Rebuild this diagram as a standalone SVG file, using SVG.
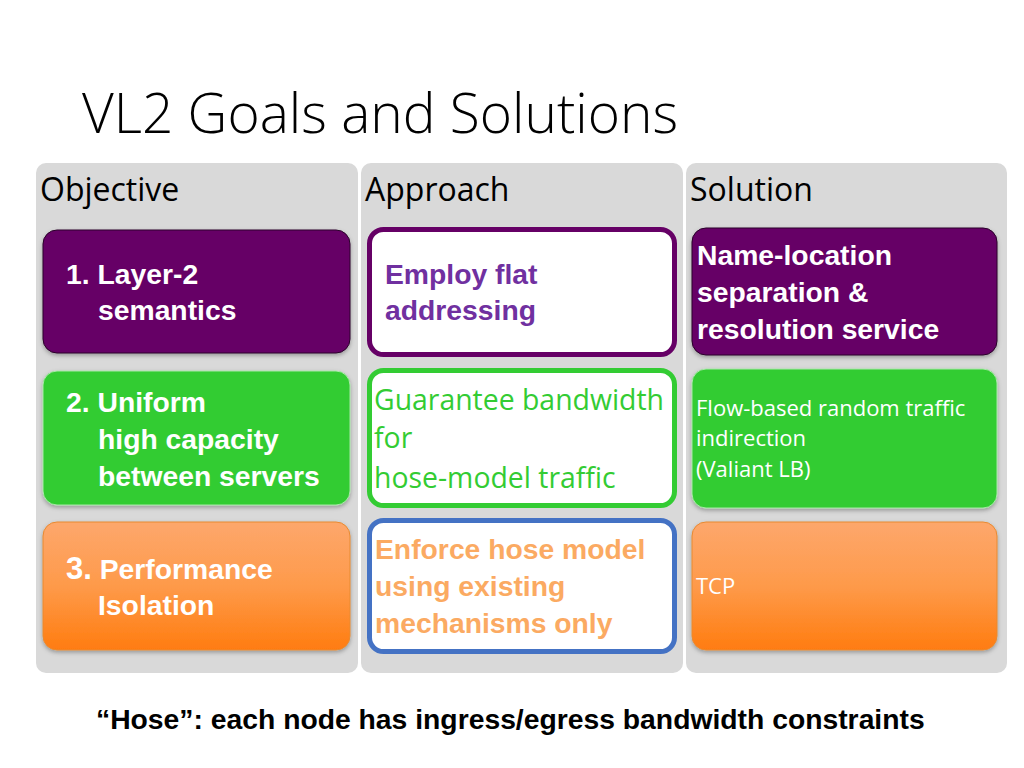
<svg xmlns="http://www.w3.org/2000/svg" width="1024" height="768" viewBox="0 0 1024 768">
<defs>
<linearGradient id="orangeGrad" x1="0" y1="0" x2="0" y2="1">
<stop offset="0" stop-color="#fda76c"/>
<stop offset="0.5" stop-color="#fe9a4a"/>
<stop offset="1" stop-color="#ff7c10"/>
</linearGradient>
<filter id="shadow" x="-5%" y="-5%" width="110%" height="120%">
<feDropShadow dx="0" dy="2" stdDeviation="2" flood-color="#000" flood-opacity="0.3"/>
</filter>
</defs>
<style>
.col{fill:#d9d9d9}
.hdr{font-family:"Open Sans",sans-serif;font-size:32px;fill:#000}
.b{font-family:"Liberation Sans",Arial,sans-serif;font-weight:bold;font-size:28.3px}
.w{fill:#fff}
.cal{font-family:"Open Sans",sans-serif}
.purpleBox{fill:#660066;stroke:#2a002a;stroke-width:1}
.greenBox{fill:#33cc33;stroke:#a8e8a8;stroke-width:1}
.orangeBox{fill:url(#orangeGrad);stroke:#e88a30;stroke-width:1}
.outline{fill:#fff;stroke-width:5}
</style>
<rect width="1024" height="768" fill="#fff"/>
<text x="82" y="133" font-family="Open Sans, sans-serif" font-weight="300" font-size="55" fill="#000">VL2 Goals and Solutions</text>

<g id="columns">
<rect class="col" x="36" y="163" width="322" height="510" rx="10"/>
<rect class="col" x="361" y="163" width="322" height="510" rx="10"/>
<rect class="col" x="686" y="163" width="321" height="510" rx="10"/>
<text class="hdr" x="40" y="201">Objective</text>
<text class="hdr" x="365" y="201">Approach</text>
<text class="hdr" x="690" y="201">Solution</text>
</g>

<g id="obj1">
<rect class="purpleBox" x="43" y="230" width="307" height="123" rx="14" filter="url(#shadow)"/>
<text class="b w" x="66" y="284">1. Layer-2</text>
<text class="b w" x="98" y="320">semantics</text>
</g>
<g id="obj2">
<rect class="greenBox" x="43" y="371" width="307" height="134" rx="14" filter="url(#shadow)"/>
<text class="b w" x="66" y="412">2. Uniform</text>
<text class="b w" x="98" y="449">high capacity</text>
<text class="b w" x="98" y="486">between servers</text>
</g>
<g id="obj3">
<rect class="orangeBox" x="43" y="522" width="307" height="128" rx="14" filter="url(#shadow)"/>
<text class="b w" x="66" y="579"><tspan font-size="31">3.</tspan> Performance</text>
<text class="b w" x="98" y="615">Isolation</text>
</g>

<g id="app1">
<rect class="outline" x="369.5" y="229.5" width="305" height="125" rx="14" stroke="#660066"/>
<text class="b" fill="#7030a0" x="385" y="284">Employ flat</text>
<text class="b" fill="#7030a0" x="385" y="320">addressing</text>
</g>
<g id="app2">
<rect class="outline" x="369.5" y="370.5" width="305" height="135" rx="14" stroke="#33cc33"/>
<text class="cal" fill="#33cc33" font-size="28.4" x="374" y="410">Guarantee bandwidth</text>
<text class="cal" fill="#33cc33" font-size="28.4" x="374" y="448">for</text>
<text class="cal" fill="#33cc33" font-size="28.4" x="374" y="488">hose-model traffic</text>
</g>
<g id="app3">
<rect class="outline" x="369.5" y="520.5" width="305" height="131" rx="14" stroke="#4472c4"/>
<text class="b" fill="#fbaa62" x="375" y="559">Enforce hose model</text>
<text class="b" fill="#fbaa62" x="375" y="596">using existing</text>
<text class="b" fill="#fbaa62" x="375" y="633">mechanisms only</text>
</g>

<g id="sol1">
<rect class="purpleBox" x="692" y="228" width="305" height="127" rx="14" filter="url(#shadow)"/>
<text class="b w" x="697" y="265">Name-location</text>
<text class="b w" x="697" y="302">separation &amp;</text>
<text class="b w" x="697" y="339">resolution service</text>
</g>
<g id="sol2">
<rect class="greenBox" x="692" y="369" width="305" height="139" rx="14" filter="url(#shadow)"/>
<text class="cal w" font-size="22" x="696" y="416">Flow-based random traffic</text>
<text class="cal w" font-size="22" x="696" y="446">indirection</text>
<text class="cal w" font-size="22" x="696" y="477">(Valiant LB)</text>
</g>
<g id="sol3">
<rect class="orangeBox" x="692" y="522" width="305" height="128" rx="14" filter="url(#shadow)"/>
<text class="cal w" font-size="22" x="696" y="594">TCP</text>
</g>

<g id="connectors"></g>

<text class="b" fill="#000" font-size="27.7" x="96" y="729">“Hose”: each node has ingress/egress bandwidth constraints</text>
</svg>
